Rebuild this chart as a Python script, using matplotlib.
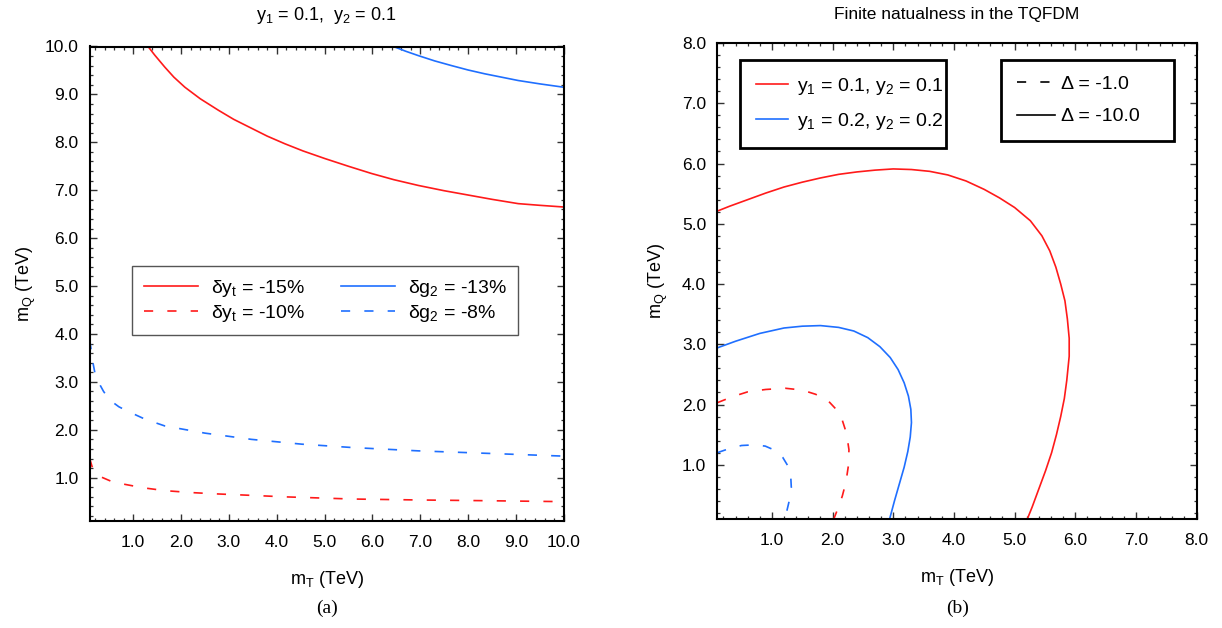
import matplotlib
matplotlib.use('Agg')
import matplotlib.pyplot as plt
from matplotlib.lines import Line2D
from matplotlib.ticker import MultipleLocator, FormatStrFormatter

plt.rcParams['font.family'] = ['Liberation Sans', 'DejaVu Sans']
plt.rcParams['mathtext.fontset'] = 'custom'
plt.rcParams['mathtext.rm'] = 'Liberation Sans'
plt.rcParams['mathtext.it'] = 'Liberation Sans'
plt.rcParams['mathtext.default'] = 'rm'

RED = '#ff1a1a'
BLUE = '#1f6fff'
DASH = (0, (5.5, 8.5))

# ---------------- panel (a) data ----------------
a_red_solid_x = [1.31, 1.45, 1.66, 1.85, 2.08, 2.40, 2.78, 3.10, 3.48, 3.80, 4.17, 4.55, 5.01, 5.50, 5.98, 6.45, 6.96, 7.50, 8.0, 8.5, 9.05, 9.5, 10.0]
a_red_solid_y = [10.0, 9.82, 9.57, 9.36, 9.15, 8.91, 8.67, 8.48, 8.29, 8.13, 7.97, 7.82, 7.66, 7.50, 7.35, 7.22, 7.10, 6.99, 6.90, 6.81, 6.72, 6.685, 6.65]

a_blue_solid_x = [6.44, 6.70, 6.96, 7.30, 7.66, 8.0, 8.35, 8.70, 9.05, 9.5, 10.0]
a_blue_solid_y = [10.0, 9.90, 9.81, 9.70, 9.60, 9.51, 9.43, 9.36, 9.29, 9.22, 9.15]

a_red_dash_x = [0.09, 0.14, 0.2, 0.34, 0.55, 0.83, 1.2, 1.66, 2.2, 2.78, 3.5, 4.17, 5.57, 6.96, 8.35, 10.0]
a_red_dash_y = [1.40, 1.23, 1.12, 1.01, 0.92, 0.86, 0.79, 0.73, 0.69, 0.66, 0.63, 0.60, 0.555, 0.535, 0.52, 0.50]

a_blue_dash_x = [0.09, 0.13, 0.16, 0.2, 0.27, 0.38, 0.51, 0.7, 0.90, 1.25, 1.66, 2.5, 3.47, 4.52, 5.57, 6.96, 8.35, 10.0]
a_blue_dash_y = [3.87, 3.6, 3.39, 3.18, 3.0, 2.8, 2.62, 2.48, 2.38, 2.22, 2.08, 1.93, 1.80, 1.70, 1.63, 1.56, 1.51, 1.45]

a_labels = [r'δ$y_t$ = -15%', r'δ$y_t$ = -10%', r'δ$g_2$ = -13%', r'δ$g_2$ = -8%']

# ---------------- panel (b) data ----------------
b_red_solid_x = [0.10, 0.30, 0.60, 0.90, 1.20, 1.50, 1.80, 2.10, 2.40, 2.70, 3.00, 3.30, 3.60, 3.90, 4.20, 4.50, 4.75, 5.00, 5.26, 5.45, 5.58, 5.68, 5.76, 5.83, 5.87, 5.90, 5.90, 5.89, 5.86, 5.82, 5.76, 5.69, 5.61, 5.51, 5.40, 5.29, 5.21]
b_red_solid_y = [5.21, 5.29, 5.40, 5.51, 5.61, 5.69, 5.76, 5.82, 5.86, 5.89, 5.91, 5.90, 5.87, 5.81, 5.71, 5.57, 5.43, 5.27, 5.05, 4.80, 4.55, 4.28, 4.00, 3.72, 3.42, 3.10, 2.80, 2.70, 2.40, 2.10, 1.80, 1.50, 1.20, 0.90, 0.60, 0.30, 0.10]

b_blue_solid_x = [0.10, 0.40, 0.80, 1.20, 1.50, 1.80, 2.10, 2.35, 2.58, 2.78, 2.95, 3.08, 3.18, 3.25, 3.29, 3.30, 3.28, 3.24, 3.18, 3.10, 3.02, 2.94]
b_blue_solid_y = [2.94, 3.05, 3.18, 3.27, 3.30, 3.31, 3.28, 3.22, 3.11, 2.96, 2.78, 2.58, 2.36, 2.14, 1.92, 1.70, 1.46, 1.22, 0.96, 0.68, 0.40, 0.10]

b_red_dash_x = [0.10, 0.35, 0.60, 0.90, 1.22, 1.50, 1.72, 1.91, 2.05, 2.16, 2.23, 2.27, 2.26, 2.22, 2.16, 2.09, 2.02]
b_red_dash_y = [2.03, 2.13, 2.21, 2.25, 2.27, 2.24, 2.17, 2.08, 1.93, 1.74, 1.52, 1.25, 0.98, 0.71, 0.48, 0.28, 0.10]

b_blue_dash_x = [0.10, 0.30, 0.50, 0.70, 0.89, 1.05, 1.18, 1.27, 1.31, 1.32, 1.29, 1.25, 1.20]
b_blue_dash_y = [1.20, 1.27, 1.32, 1.33, 1.31, 1.24, 1.12, 0.97, 0.82, 0.62, 0.42, 0.25, 0.10]

b_labels_color = [r'$y_1$ = 0.1, $y_2$ = 0.1', r'$y_1$ = 0.2, $y_2$ = 0.2']
b_labels_style = ['Δ = -1.0', 'Δ = -10.0']

fig = plt.figure(figsize=(12.22, 6.28), dpi=100)
W, H = 1222.0, 628.0


def px_axes(l, r, t, b):
    return [l / W, 1 - b / H, (r - l) / W, (b - t) / H]


axL = fig.add_axes(px_axes(89.7, 563.7, 46.5, 521))
axR = fig.add_axes(px_axes(717.3, 1196.6, 43, 519))


def style(ax, xmin, ymin, lim, ypad):
    ax.set_xlim(xmin, lim)
    ax.set_ylim(ymin, lim)
    ax.xaxis.set_major_locator(MultipleLocator(1.0))
    ax.yaxis.set_major_locator(MultipleLocator(1.0))
    ax.xaxis.set_minor_locator(MultipleLocator(0.2))
    ax.yaxis.set_minor_locator(MultipleLocator(0.2))
    ax.xaxis.set_major_formatter(FormatStrFormatter('%.1f'))
    ax.yaxis.set_major_formatter(FormatStrFormatter('%.1f'))
    ax.tick_params(which='both', direction='in', top=True, right=True,
                   color='#333333', labelsize=12.5)
    ax.tick_params(which='major', length=5, width=1.0)
    ax.tick_params(which='minor', length=2.5, width=0.9)
    ax.tick_params(axis='y', pad=8)
    ax.tick_params(axis='x', pad=10)
    for s in ax.spines.values():
        s.set_linewidth(1.5)
    ax.set_xlabel(r'$m_T$ (TeV)', fontsize=13, labelpad=13.5)
    ax.set_ylabel(r'$m_Q$ (TeV)', fontsize=13, labelpad=ypad)


style(axL, 0.09, 0.096, 10.0, 5)
style(axR, 0.1, 0.1, 8.0, 8.5)

# panel (a)
axL.plot(a_red_solid_x, a_red_solid_y, color=RED, lw=1.2)
axL.plot(a_blue_solid_x, a_blue_solid_y, color=BLUE, lw=1.2)
axL.plot(a_red_dash_x, a_red_dash_y, color=RED, lw=1.2, ls=DASH)
axL.plot(a_blue_dash_x, a_blue_dash_y, color=BLUE, lw=1.2, ls=DASH)
axL.set_title(r'$y_1$ = 0.1,  $y_2$ = 0.1', fontsize=13, pad=19)

hL = [Line2D([], [], color=RED, lw=1.2),
      Line2D([], [], color=RED, lw=1.2, ls=DASH),
      Line2D([], [], color=BLUE, lw=1.2),
      Line2D([], [], color=BLUE, lw=1.2, ls=DASH)]
legL = axL.legend(hL, a_labels, ncol=2, loc='upper left',
                  bbox_to_anchor=(0.089, 0.537), fontsize=14,
                  handlelength=2.8, handletextpad=0.65, columnspacing=1.85,
                  labelspacing=0.2, borderpad=0.6, borderaxespad=0,
                  fancybox=False, framealpha=1, edgecolor='#555555')
legL.get_frame().set_linewidth(1.0)

# panel (b)
axR.plot(b_red_solid_x, b_red_solid_y, color=RED, lw=1.2)
axR.plot(b_blue_solid_x, b_blue_solid_y, color=BLUE, lw=1.2)
axR.plot(b_red_dash_x, b_red_dash_y, color=RED, lw=1.2, ls=DASH)
axR.plot(b_blue_dash_x, b_blue_dash_y, color=BLUE, lw=1.2, ls=DASH)
axR.set_title('Finite natualness in the TQFDM', fontsize=12.5, pad=17)

hC = [Line2D([], [], color=RED, lw=1.2), Line2D([], [], color=BLUE, lw=1.2)]
legC = axR.legend(hC, b_labels_color, loc='upper left',
                  bbox_to_anchor=(0.048, 0.0, 0.430, 0.964), mode='expand',
                  fontsize=14,
                  handlelength=1.65, handletextpad=0.45, labelspacing=0.75,
                  borderpad=0.8, borderaxespad=0,
                  fancybox=False, framealpha=1, edgecolor='black')
legC.get_frame().set_linewidth(2.0)
axR.add_artist(legC)

hS = [Line2D([], [], color='black', lw=1.2, ls=DASH),
      Line2D([], [], color='black', lw=1.2)]
legS = axR.legend(hS, b_labels_style, loc='upper left',
                  bbox_to_anchor=(0.592, 0.0, 0.361, 0.964), mode='expand',
                  fontsize=14,
                  handlelength=1.95, handletextpad=0.35, labelspacing=0.75,
                  borderpad=0.8, borderaxespad=0,
                  fancybox=False, framealpha=1, edgecolor='black')
legS.get_frame().set_linewidth(2.0)

fig.text(327 / W, 1 - 608 / H, '(a)', family=['Liberation Serif'], fontsize=14,
         ha='center', va='center')
fig.text(958 / W, 1 - 608 / H, '(b)', family=['Liberation Serif'], fontsize=14,
         ha='center', va='center')

fig.savefig('out.png', dpi=100)
